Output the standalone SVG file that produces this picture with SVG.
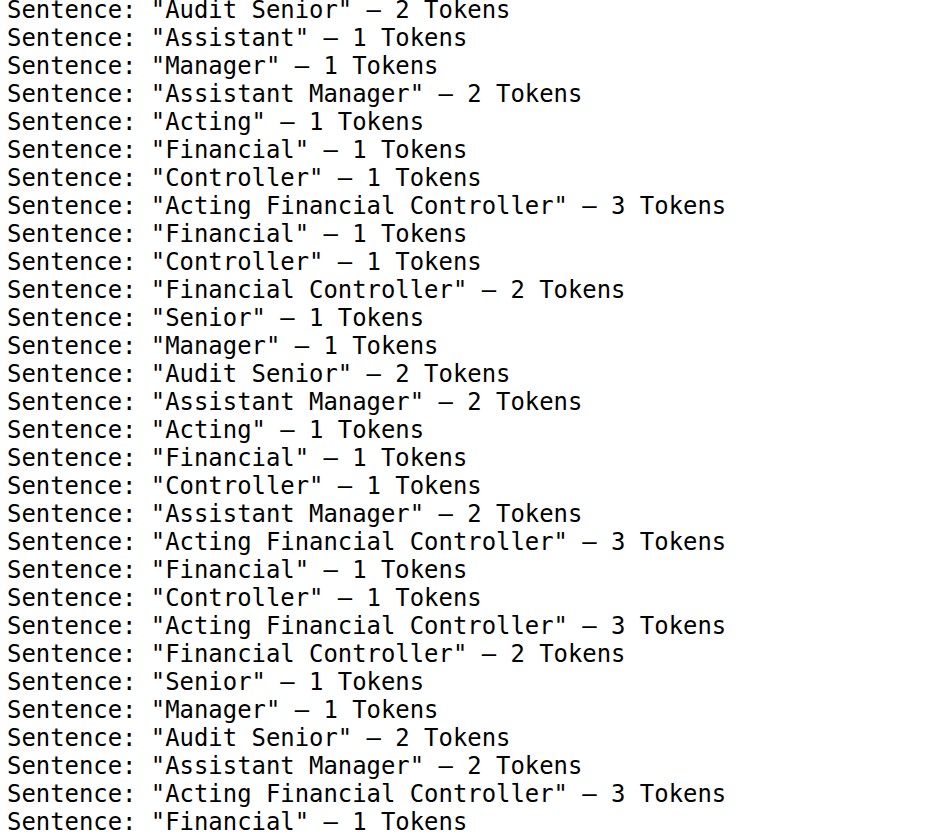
<svg xmlns="http://www.w3.org/2000/svg" width="944" height="840" viewBox="0 0 944 840">
<style>
.t{font-family:"DejaVu Sans Mono","Liberation Mono",monospace;font-size:23.9px;fill:#000}
</style>
<rect width="944" height="840" fill="#fff"/>
<g id="output" class="t">
<text x="7" y="18">Sentence: "Audit Senior" – 2 Tokens</text>
<text x="7" y="46">Sentence: "Assistant" – 1 Tokens</text>
<text x="7" y="74">Sentence: "Manager" – 1 Tokens</text>
<text x="7" y="102">Sentence: "Assistant Manager" – 2 Tokens</text>
<text x="7" y="130">Sentence: "Acting" – 1 Tokens</text>
<text x="7" y="158">Sentence: "Financial" – 1 Tokens</text>
<text x="7" y="186">Sentence: "Controller" – 1 Tokens</text>
<text x="7" y="214">Sentence: "Acting Financial Controller" – 3 Tokens</text>
<text x="7" y="242">Sentence: "Financial" – 1 Tokens</text>
<text x="7" y="270">Sentence: "Controller" – 1 Tokens</text>
<text x="7" y="298">Sentence: "Financial Controller" – 2 Tokens</text>
<text x="7" y="326">Sentence: "Senior" – 1 Tokens</text>
<text x="7" y="354">Sentence: "Manager" – 1 Tokens</text>
<text x="7" y="382">Sentence: "Audit Senior" – 2 Tokens</text>
<text x="7" y="410">Sentence: "Assistant Manager" – 2 Tokens</text>
<text x="7" y="438">Sentence: "Acting" – 1 Tokens</text>
<text x="7" y="466">Sentence: "Financial" – 1 Tokens</text>
<text x="7" y="494">Sentence: "Controller" – 1 Tokens</text>
<text x="7" y="522">Sentence: "Assistant Manager" – 2 Tokens</text>
<text x="7" y="550">Sentence: "Acting Financial Controller" – 3 Tokens</text>
<text x="7" y="578">Sentence: "Financial" – 1 Tokens</text>
<text x="7" y="606">Sentence: "Controller" – 1 Tokens</text>
<text x="7" y="634">Sentence: "Acting Financial Controller" – 3 Tokens</text>
<text x="7" y="662">Sentence: "Financial Controller" – 2 Tokens</text>
<text x="7" y="690">Sentence: "Senior" – 1 Tokens</text>
<text x="7" y="718">Sentence: "Manager" – 1 Tokens</text>
<text x="7" y="746">Sentence: "Audit Senior" – 2 Tokens</text>
<text x="7" y="774">Sentence: "Assistant Manager" – 2 Tokens</text>
<text x="7" y="802">Sentence: "Acting Financial Controller" – 3 Tokens</text>
<text x="7" y="830">Sentence: "Financial" – 1 Tokens</text>
</g>
</svg>
